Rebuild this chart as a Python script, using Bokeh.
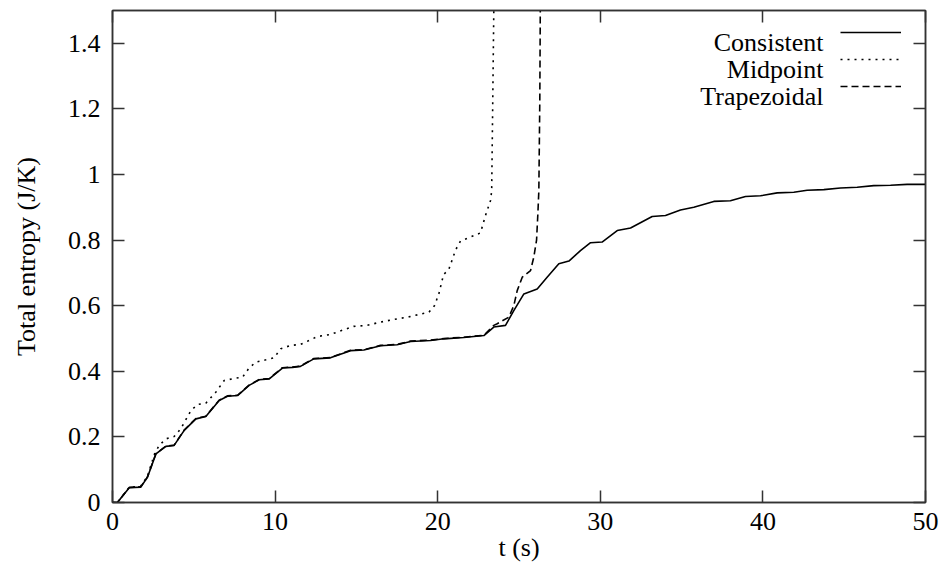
from bokeh.plotting import figure
from bokeh.models import Range1d, LinearAxis, FixedTicker, Legend, LegendItem, Label
from bokeh.embed import file_html
from bokeh.resources import INLINE

# ---- data ----
t_consistent = [0, 0.3, 1.03, 1.74, 2.15, 2.67, 3.28, 3.79, 4.41, 5.13, 5.74, 6.56, 7.07, 7.69,
                8.4, 9.02, 9.64, 10.45, 11.07, 11.56, 12.38, 13.4, 14.64, 15.46, 16.48, 17.5,
                18.33, 19.56, 20.38, 21.6, 22.84, 23.45, 24.17, 24.68, 25.3, 26.12, 26.73,
                27.45, 28.07, 28.78, 29.4, 30.11, 31.04, 31.86, 33.19, 34.01, 34.93, 35.75,
                36.98, 38.0, 38.93, 39.85, 40.88, 41.9, 42.72, 43.75, 44.77, 45.8, 46.82,
                47.85, 48.87, 50]
s_consistent = [0, 0.0, 0.045, 0.047, 0.077, 0.148, 0.171, 0.174, 0.22, 0.255, 0.262, 0.311,
                0.324, 0.326, 0.357, 0.374, 0.377, 0.41, 0.412, 0.415, 0.438, 0.441, 0.463,
                0.465, 0.478, 0.481, 0.491, 0.494, 0.499, 0.503, 0.509, 0.535, 0.54, 0.585,
                0.636, 0.651, 0.687, 0.728, 0.736, 0.768, 0.792, 0.794, 0.829, 0.837, 0.872,
                0.875, 0.892, 0.9, 0.918, 0.92, 0.933, 0.935, 0.944, 0.946, 0.952, 0.954,
                0.959, 0.961, 0.966, 0.967, 0.97, 0.97]

t_midpoint = [0, 0.3, 1.03, 1.74, 2.15, 2.6, 2.87, 3.28, 3.79, 4.2, 4.82, 5.23, 5.74, 6.35,
              6.87, 7.58, 8.0, 8.4, 8.81, 9.43, 9.94, 10.35, 10.97, 11.56, 12.18, 12.59, 13.4,
              14.23, 14.84, 15.66, 16.48, 17.3, 18.12, 18.84, 19.46, 19.8, 20.07, 20.36, 20.68,
              21.1, 21.4, 22.0, 22.63, 22.94, 23.25, 23.32, 23.38, 23.45, 23.47]
s_midpoint = [0, 0.0, 0.046, 0.05, 0.08, 0.15, 0.174, 0.194, 0.201, 0.225, 0.28, 0.299, 0.303,
              0.336, 0.372, 0.379, 0.382, 0.41, 0.428, 0.435, 0.441, 0.469, 0.479, 0.482,
              0.496, 0.506, 0.512, 0.527, 0.537, 0.54, 0.55, 0.558, 0.565, 0.573, 0.58, 0.6,
              0.636, 0.695, 0.71, 0.77, 0.797, 0.809, 0.822, 0.875, 0.921, 0.95, 1.2, 1.5, 1.6]

t_trapezoidal = [0, 0.3, 1.03, 1.74, 2.15, 2.67, 3.28, 3.79, 4.41, 5.13, 5.74, 6.56, 7.07, 7.69,
                 8.4, 9.02, 9.64, 10.45, 11.07, 11.56, 12.38, 13.4, 14.64, 15.46, 16.48, 17.5,
                 18.33, 19.56, 20.38, 21.6, 22.84, 23.45, 23.66, 24.37, 24.68, 24.89, 25.2,
                 25.71, 25.91, 26.08, 26.16, 26.22, 26.28, 26.32]
s_trapezoidal = [0, 0.0, 0.046, 0.048, 0.078, 0.149, 0.172, 0.175, 0.221, 0.256, 0.263, 0.312,
                 0.325, 0.327, 0.358, 0.375, 0.378, 0.411, 0.413, 0.416, 0.439, 0.442, 0.464,
                 0.466, 0.479, 0.482, 0.492, 0.495, 0.5, 0.504, 0.51, 0.54, 0.545, 0.565, 0.6,
                 0.646, 0.687, 0.707, 0.748, 0.8, 0.88, 0.95, 1.23, 1.6]

x_ticks = [0, 10, 20, 30, 40, 50]
y_ticks = [0, 0.2, 0.4, 0.6, 0.8, 1.0, 1.2, 1.4]
y_tick_labels = {0: "0", 0.2: "0.2", 0.4: "0.4", 0.6: "0.6", 0.8: "0.8", 1.0: "1", 1.2: "1.2", 1.4: "1.4"}
series_names = ["Consistent", "Midpoint", "Trapezoidal"]
x_label = "t (s)"
y_label = "Total entropy (J/K)"

FONT = "Liberation Serif"
FS = "26px"
AX = "#333333"

p = figure(width=940, height=572, output_backend="svg", toolbar_location=None,
           x_range=Range1d(0, 50), y_range=Range1d(0, 1.5),
           min_border_left=112, min_border_right=15, min_border_top=10, min_border_bottom=70,
           x_axis_location=None, y_axis_location=None)
p.grid.visible = False
p.outline_line_color = AX
p.outline_line_width = 1.5
p.background_fill_color = "white"
p.border_fill_color = "white"

def style_axis(ax):
    ax.axis_line_color = AX
    ax.axis_line_width = 1.5
    ax.major_tick_line_color = AX
    ax.major_tick_line_width = 1.5
    ax.major_tick_in = 12
    ax.major_tick_out = 0
    ax.minor_tick_line_color = None
    ax.major_label_text_font = FONT
    ax.major_label_text_color = "black"
    ax.major_label_text_font_size = FS

bottom = LinearAxis(ticker=FixedTicker(ticks=x_ticks))
style_axis(bottom)
bottom.major_label_standoff = 10
bottom.axis_label = x_label
bottom.axis_label_text_font = FONT
bottom.axis_label_text_font_size = FS
bottom.axis_label_text_font_style = "normal"
bottom.axis_label_text_color = "black"
bottom.axis_label_standoff = 0
p.add_layout(bottom, "below")

left = LinearAxis(ticker=FixedTicker(ticks=y_ticks), major_label_overrides=y_tick_labels)
style_axis(left)
left.major_label_standoff = 12
left.axis_label = y_label
left.axis_label_text_font = FONT
left.axis_label_text_font_size = FS
left.axis_label_text_font_style = "normal"
left.axis_label_text_color = "black"
left.axis_label_standoff = 24
p.add_layout(left, "left")

# mirrored tick marks on top and right (no labels)
top = LinearAxis(ticker=FixedTicker(ticks=x_ticks),
                 major_label_overrides={t: "" for t in x_ticks})
style_axis(top)
top.major_label_text_font_size = "1px"
top.major_label_standoff = 0
p.add_layout(top, "above")

right = LinearAxis(ticker=FixedTicker(ticks=y_ticks),
                   major_label_overrides={t: "" for t in y_ticks})
style_axis(right)
right.major_label_text_font_size = "1px"
right.major_label_standoff = 0
p.add_layout(right, "right")

r1 = p.line(t_consistent, s_consistent, line_color="black", line_width=1.6)
r2 = p.line(t_midpoint, s_midpoint, line_color="black", line_width=1.6, line_dash="2 5")
r3 = p.line(t_trapezoidal, s_trapezoidal, line_color="black", line_width=1.6, line_dash="7 4")

legend = Legend(items=[LegendItem(label=" ", renderers=[r]) for r in (r1, r2, r3)],
                location="top_right", glyph_width=61, glyph_height=20, label_width=12,
                label_height=20, label_standoff=0, label_text_font_size="8px", spacing=7,
                padding=10, margin=12, border_line_color=None, background_fill_alpha=0)
p.add_layout(legend)

legend_text_x = 43.73
legend_text_y = [1.402, 1.320, 1.238]
for name, yy in zip(series_names, legend_text_y):
    p.add_layout(Label(x=legend_text_x, y=yy, text=name, text_align="right",
                       text_baseline="middle", text_font=FONT, text_font_size=FS,
                       text_color="black"))

open("out.html", "w").write(file_html(p, INLINE))
